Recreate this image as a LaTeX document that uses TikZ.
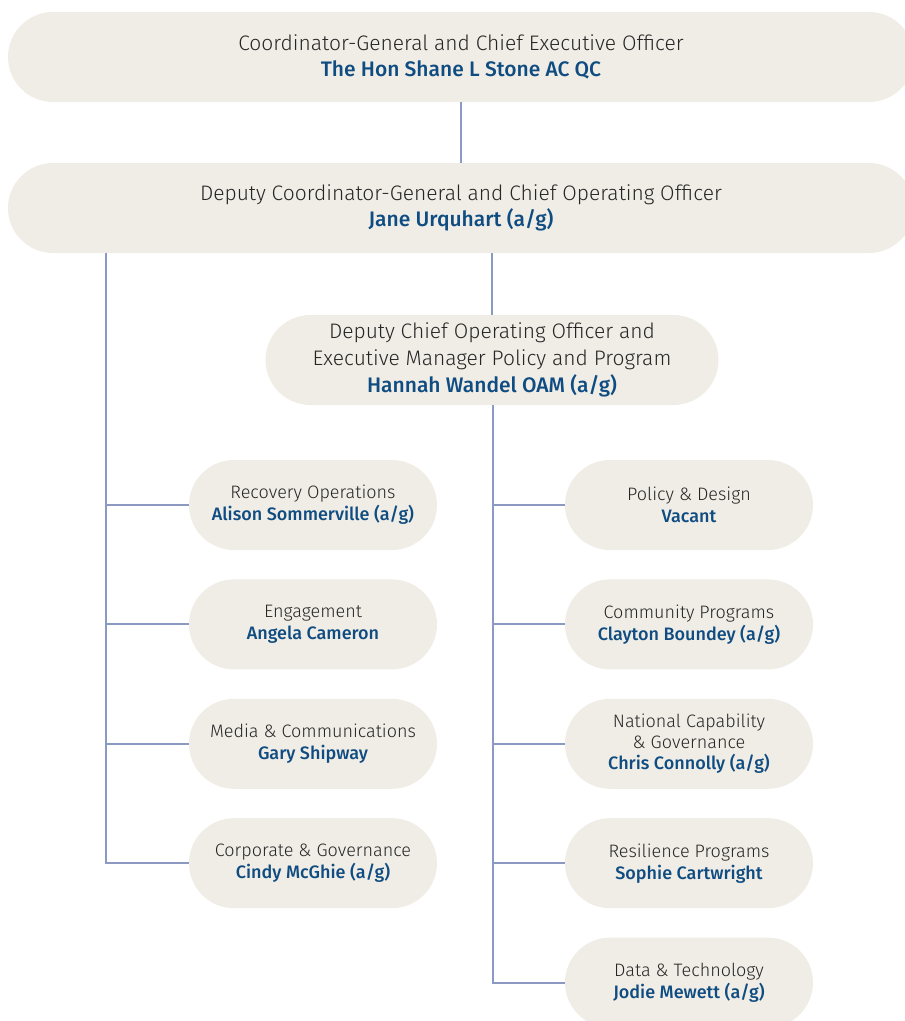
\documentclass[tikz,border=0pt]{standalone}
\usepackage{fontspec}
\setmainfont{Fira Sans}[UprightFont={* Light}, BoldFont={* Medium}]
\usetikzlibrary{positioning}
\definecolor{boxfill}{HTML}{F0EDE6}
\definecolor{linkline}{HTML}{8C99C2}
\definecolor{namecol}{HTML}{0F4C81}
\definecolor{titlecol}{HTML}{262626}
\newlength{\unitheight}
\setlength{\unitheight}{90pt}
\tikzset{topunit/.style = {shape=rectangle, fill=boxfill, rounded corners=45pt, minimum width=906pt, minimum height=\unitheight, inner sep=2pt, align=center, text=titlecol, font=\fontsize{21}{26}\selectfont}}
\tikzset{midunit/.style = {topunit, minimum width=453pt, font=\fontsize{21}{27}\selectfont}}
\tikzset{unit/.style = {topunit, minimum width=248pt, font=\fontsize{18}{22}\selectfont}}
\tikzset{link/.style = {draw=linkline, line width=2pt}}
\newcommand{\who}[1]{{\bfseries\color{namecol}#1}}

\begin{document}
\begin{tikzpicture}[x=1pt, y=-1pt]
                \useasboundingbox (0,0) rectangle (905,1021);
                \clip (0,0) rectangle (905,1021);
                \node[topunit] (cg) at (461,57) {Coordinator-General and Chief Executive Officer\\ \who{The Hon Shane L Stone AC QC}};
                \node[topunit] (dcg) at (461,208) {Deputy Coordinator-General and Chief Operating Officer\\ \who{Jane Urquhart (a/g)}};
                \draw[link] (cg) -- (dcg);
                \node[midunit] (dcoo) at (492,360) {Deputy Chief Operating Officer and\\ Executive Manager Policy and Program\\ \who{Hannah Wandel OAM (a/g)}};
                \draw[link] (dcg.south -| dcoo) -- (dcoo);
                % left column
                \node[unit] (rec) at (313,505) {Recovery Operations\\ \who{Alison Sommerville (a/g)}};
                \node[unit] (eng) [below=29pt of rec] {Engagement\\ \who{Angela Cameron}};
                \node[unit] (media) [below=29pt of eng] {Media \& Communications\\ \who{Gary Shipway}};
                \node[unit] (corp) [below=29pt of media] {Corporate \& Governance\\ \who{Cindy McGhie (a/g)}};
                % right column
                \node[unit] (pol) at (689,505) {Policy \& Design\\ \who{Vacant}};
                \node[unit] (comm) [below=29pt of pol] {Community Programs\\ \who{Clayton Boundey (a/g)}};
                \node[unit] (nat) [below=29pt of comm, font=\fontsize{18}{21}\selectfont] {National Capability\\ \& Governance\\ \who{Chris Connolly (a/g)}};
                \node[unit] (res) [below=29pt of nat] {Resilience Programs\\ \who{Sophie Cartwright}};
                \node[unit] (data) [below=29pt of res] {Data \& Technology\\ \who{Jodie Mewett (a/g)}};
                % spines
                \coordinate (lspine) at (106,253);
                \coordinate (rspine) at (493,405);
                \draw[link] (lspine) |- (corp.west);
                \draw[link] (rspine) |- (data.west);
                \foreach \u in {rec, eng, media}
                    \draw[link] (\u.west -| lspine) -- (\u.west);
                \foreach \u in {pol, comm, nat, res}
                    \draw[link] (\u.west -| rspine) -- (\u.west);
            \end{tikzpicture}
\end{document}
